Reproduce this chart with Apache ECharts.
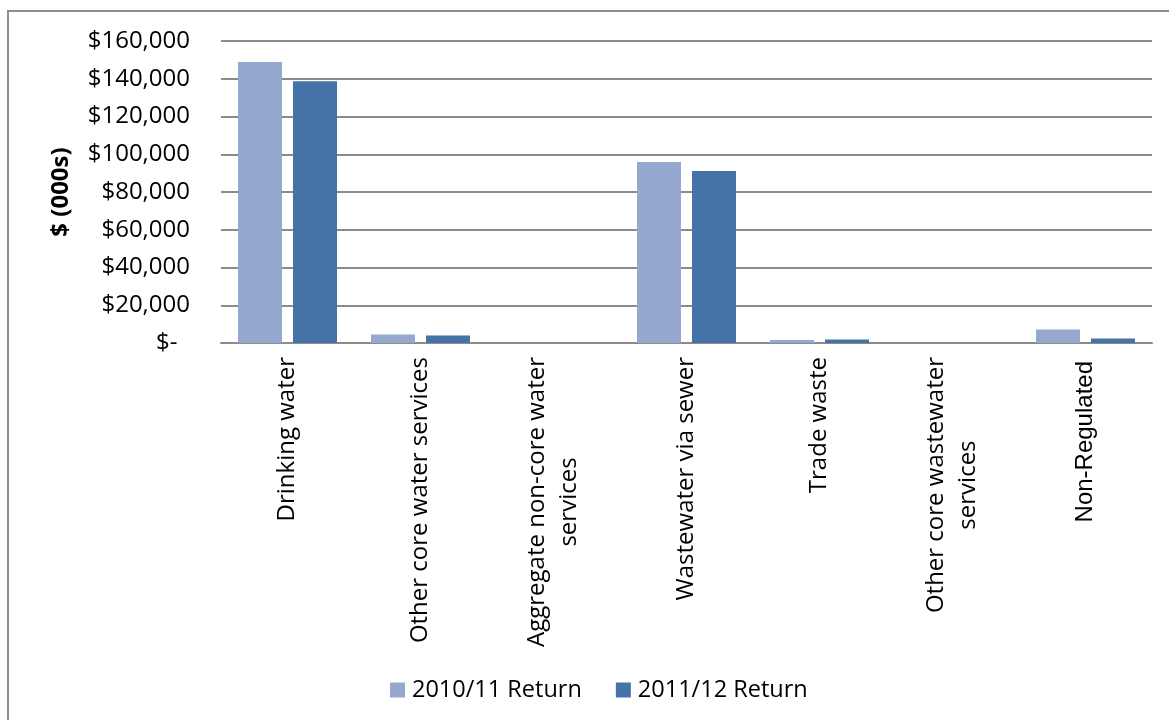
<!DOCTYPE html>
<html>
<head>
<meta charset="utf-8">
<title>Operating cost by service</title>
<script src="https://cdn.jsdelivr.net/npm/echarts@6/dist/echarts.min.js"></script>
<style>
  html, body { margin: 0; padding: 0; background: #fff; }
  #chart { width: 1169px; height: 720px; }
</style>
</head>
<body>
<div id="chart"></div>
<script>
// Service categories (line breaks follow the wrapped axis labels)
const categories = [
  'Drinking water',
  'Other core water services',
  'Aggregate non-core water\nservices',
  'Wastewater via sewer',
  'Trade waste',
  'Other core wastewater\nservices',
  'Non-Regulated'
];

// Values in $ thousands
const return2010 = [148900, 4550, 0, 95900, 1600, 0, 7200];
const return2011 = [138700, 4000, 0, 91100, 1900, 0, 2450];

const seriesNames = ['2010/11 Return', '2011/12 Return'];

// Value axis ticks
const yMin = 0;
const yMax = 160000;
const yStep = 20000;

const FONT = '"Open Sans", "Noto Sans", sans-serif';
const GRID_GRAY = '#8b8b8b';

function money(v) {
  if (v === 0) return '$-  ';
  return '$' + v.toLocaleString('en-US');
}

const chart = echarts.init(document.getElementById('chart'), null, { renderer: 'canvas' });

chart.setOption({
  animation: false,
  backgroundColor: '#ffffff',
  graphic: [{
    type: 'rect',
    silent: true,
    z: -1,
    shape: { x: 8, y: 11, width: 1400, height: 900 },
    style: { fill: 'none', stroke: '#8e8e8e', lineWidth: 2 }
  }],
  grid: {
    left: 221,
    right: 17,
    top: 41,
    bottom: 377,
    containLabel: false
  },
  legend: {
    left: 385,
    top: 673,
    itemWidth: 15,
    itemHeight: 15,
    itemGap: 34,
    icon: 'rect',
    textStyle: { fontFamily: FONT, fontSize: 23.5, color: '#000', padding: [0, 0, 0, 2] },
    data: seriesNames
  },
  xAxis: {
    type: 'category',
    data: categories,
    axisLine: { show: true, lineStyle: { color: GRID_GRAY, width: 2 } },
    axisTick: { show: false },
    axisLabel: {
      interval: 0,
      rotate: 90,
      margin: 14,
      color: '#000',
      formatter: function (v) {
        if (v === 'Non-Regulated') return '{r|' + v + '}';
        return v.split('\n').map(function (s) { return '{c|' + s + '}'; }).join('\n');
      },
      rich: {
        c: { fontFamily: FONT, fontSize: 24, color: '#000', align: 'center', lineHeight: 32 },
        r: { fontFamily: '"Liberation Sans", Arial, sans-serif', fontSize: 24, color: '#000', lineHeight: 32, padding: [0, 4, 0, 0] }
      }
    }
  },
  yAxis: {
    type: 'value',
    min: yMin,
    max: yMax,
    interval: yStep,
    name: '$ (000s)',
    nameLocation: 'middle',
    nameRotate: 90,
    nameGap: 148,
    nameTextStyle: { fontFamily: FONT, fontSize: 24, fontWeight: 'bold', color: '#000' },
    axisLine: { show: false },
    axisTick: { show: false },
    axisLabel: {
      margin: 31,
      fontFamily: FONT,
      fontSize: 24,
      color: '#000',
      formatter: money
    },
    splitLine: { show: true, lineStyle: { color: GRID_GRAY, width: 2 } }
  },
  series: [
    {
      name: seriesNames[0],
      type: 'bar',
      data: return2010,
      barWidth: 44,
      barGap: '25%',
      itemStyle: { color: '#95a9d0' }
    },
    {
      name: seriesNames[1],
      type: 'bar',
      data: return2011,
      barWidth: 44,
      barGap: '25%',
      itemStyle: { color: '#4573a7' }
    }
  ]
});
</script>
</body>
</html>
